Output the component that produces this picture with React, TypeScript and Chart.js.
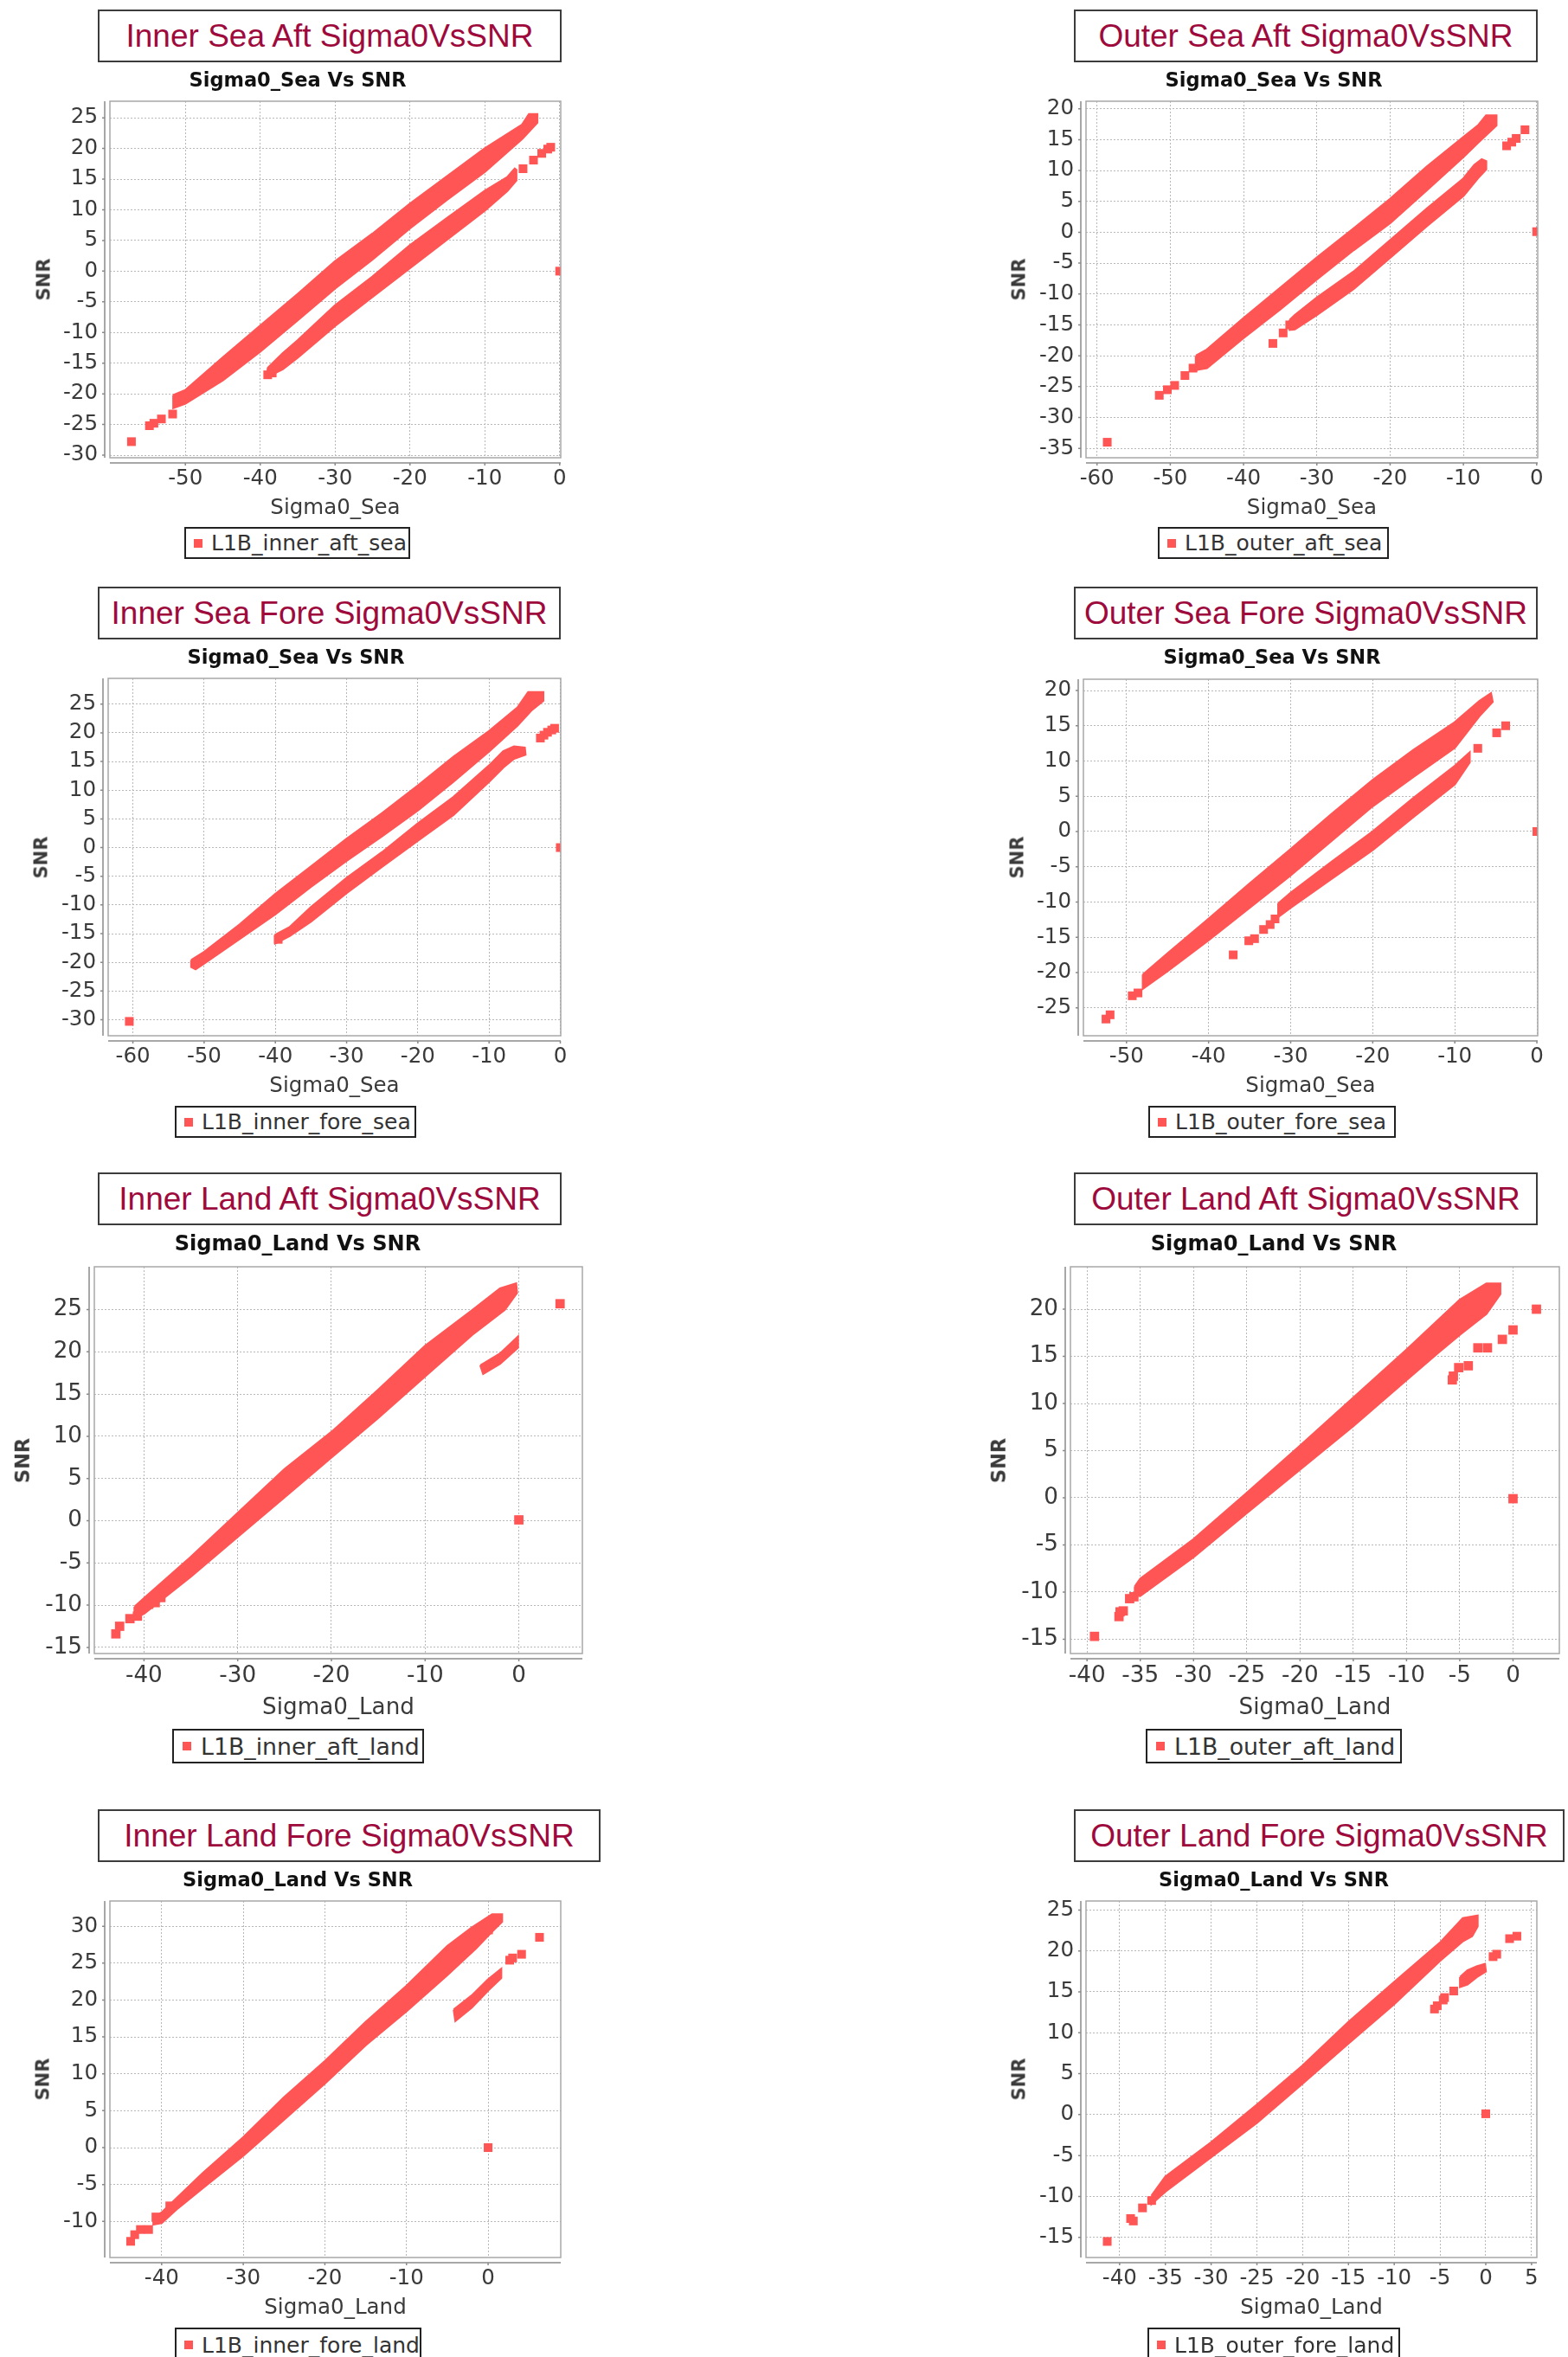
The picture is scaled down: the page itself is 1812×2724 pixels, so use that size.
import React, { useEffect, useRef } from 'react';
import { Chart, registerables } from 'chart.js';

Chart.register(...registerables);

type P = [number, number];

const RED = '#ff5555';
const FONT = "'DejaVu Sans', sans-serif";
const TITLE_FONT = "'Liberation Sans', Arial, sans-serif";

// ---------------- Inner Sea Aft ----------------
const innerSeaAftXTicks = [-50, -40, -30, -20, -10, 0];
const innerSeaAftYTicks = [-30, -25, -20, -15, -10, -5, 0, 5, 10, 15, 20, 25];
const innerSeaAftBandA: P[] = [
  [-51.6, -20.2], [-50, -19.4], [-45, -14.1], [-40, -8.9], [-35, -3.75], [-30, 1.6], [-25, 6.1], [-20, 11.0],
  [-15, 15.5], [-10, 20.0], [-5, 23.9], [-4.1, 25.6], [-3.0, 25.6],
  [-3.0, 24.2], [-5, 21.6], [-10, 16.2], [-15, 11.7], [-20, 7.0], [-25, 1.9], [-30, -2.8], [-35, -8.0],
  [-40, -13.1], [-45, -17.8], [-50, -21.6], [-51.6, -22.3],
];
const innerSeaAftBandB: P[] = [
  [-39.0, -15.8], [-37, -13.4], [-35, -11.3], [-30, -5.6], [-25, -0.9], [-20, 4.2], [-15, 8.7], [-10, 13.1],
  [-7, 15.3], [-6.0, 16.7], [-5.8, 16.5],
  [-5.8, 14.8], [-7, 13.1], [-10, 9.9], [-15, 5.2], [-20, 0.5], [-25, -4.2], [-30, -8.9], [-35, -14.1],
  [-37, -16.0], [-39, -17.2],
];
const innerSeaAftPoints: P[] = [
  [-57.2, -27.8], [-54.8, -25.2], [-54.2, -24.8], [-53.2, -24.1], [-51.7, -23.3], [-39.0, -16.9], [-38.4, -16.6],
  [-4.9, 16.7], [-3.5, 18.1], [-2.4, 19.2], [-1.6, 19.9], [-1.2, 20.2], [0, 0],
];

// ---------------- Outer Sea Aft ----------------
const outerSeaAftXTicks = [-60, -50, -40, -30, -20, -10, 0];
const outerSeaAftYTicks = [-35, -30, -25, -20, -15, -10, -5, 0, 5, 10, 15, 20];
const outerSeaAftBandA: P[] = [
  [-46.5, -20.0], [-45, -19.0], [-40, -13.9], [-35, -9.0], [-30, -4.1], [-25, 0.6], [-20, 5.4], [-15, 10.6],
  [-10, 15.4], [-8, 17.3], [-6.9, 18.9], [-5.5, 18.9],
  [-5.5, 17.3], [-8, 14.5], [-10, 12.2], [-15, 6.8], [-20, 1.5], [-25, -2.9], [-30, -7.6], [-35, -12.5],
  [-40, -17.1], [-45, -22.0], [-46.5, -22.3],
];
const outerSeaAftBandB: P[] = [
  [-33.7, -14.2], [-33, -13.4], [-30, -10.6], [-25, -6.4], [-20, -1.3], [-15, 3.8], [-10, 8.7], [-8.5, 10.9],
  [-7.5, 11.8], [-6.9, 11.5],
  [-6.9, 10.2], [-8, 8.8], [-10, 5.9], [-15, 1.0], [-20, -4.1], [-25, -9.2], [-30, -13.4], [-33, -15.7],
  [-33.7, -15.8],
];
const outerSeaAftPoints: P[] = [
  [-58.6, -34.0], [-51.5, -26.4], [-50.4, -25.5], [-49.4, -24.8], [-48.0, -23.2], [-46.9, -22.0], [-36.0, -18.0],
  [-34.6, -16.3], [-33.7, -15.0], [-4.1, 14.0], [-3.4, 14.6], [-2.8, 15.2], [-1.6, 16.6], [0, 0.1],
];

// ---------------- Inner Sea Fore ----------------
const innerSeaForeXTicks = [-60, -50, -40, -30, -20, -10, 0];
const innerSeaForeYTicks = [-30, -25, -20, -15, -10, -5, 0, 5, 10, 15, 20, 25];
const innerSeaForeBandA: P[] = [
  [-51.8, -19.6], [-50, -18.2], [-45, -13.4], [-40, -8.1], [-35, -3.3], [-30, 1.5], [-25, 6.0], [-20, 10.8],
  [-15, 15.8], [-10, 20.3], [-6, 24.4], [-4.5, 27.1], [-2.4, 27.1],
  [-2.4, 25.6], [-4, 24.0], [-6, 21.3], [-10, 16.8], [-15, 11.5], [-20, 6.5], [-25, 2.0], [-30, -2.3],
  [-35, -6.8], [-40, -11.6], [-45, -15.9], [-50, -20.2], [-51.2, -21.2], [-51.8, -20.8],
];
const innerSeaForeBandB: P[] = [
  [-40, -15.2], [-38, -13.9], [-35, -10.4], [-30, -5.3], [-25, -0.8], [-20, 4.2], [-15, 8.8], [-10, 14.3],
  [-8, 16.8], [-6.5, 17.6], [-5, 17.4],
  [-4.9, 16.2], [-6.5, 15.5], [-8, 14.0], [-10, 11.5], [-15, 5.7], [-20, 1.2], [-25, -3.3], [-30, -7.9],
  [-35, -12.9], [-38, -15.4], [-40, -16.7],
];
const innerSeaForePoints: P[] = [
  [-60.5, -30.3], [-39.6, -16.0], [-2.8, 19.1], [-2.3, 19.6], [-1.8, 20.1], [-1.2, 20.5], [-0.8, 20.8], [0, 0],
];

// ---------------- Outer Sea Fore ----------------
const outerSeaForeXTicks = [-50, -40, -30, -20, -10, 0];
const outerSeaForeYTicks = [-25, -20, -15, -10, -5, 0, 5, 10, 15, 20];
const outerSeaForeBandA: P[] = [
  [-48, -20.3], [-45, -17.3], [-40, -12.4], [-35, -7.4], [-30, -2.5], [-25, 2.5], [-20, 7.3], [-15, 11.6],
  [-10, 15.5], [-7, 18.5], [-5.6, 19.6],
  [-5.4, 18.4], [-7, 16.4], [-10, 11.9], [-15, 7.8], [-20, 3.6], [-25, -1.3], [-30, -6.2], [-35, -10.8],
  [-40, -15.4], [-45, -19.8], [-48, -22.3],
];
const outerSeaForeBandB: P[] = [
  [-31.5, -10.2], [-30, -8.7], [-25, -4.3], [-20, 0.0], [-15, 4.8], [-10, 9.3], [-8.2, 11.2],
  [-8.2, 9.8], [-10, 6.7], [-15, 2.1], [-20, -2.6], [-25, -6.7], [-30, -10.8], [-31.5, -12.1],
];
const outerSeaForePoints: P[] = [
  [-52.5, -26.6], [-52.0, -26.0], [-49.3, -23.3], [-48.6, -22.9], [-37.0, -17.5], [-35.1, -15.5], [-34.4, -15.2],
  [-33.3, -13.9], [-32.5, -13.2], [-31.9, -12.4], [-7.2, 11.8], [-4.9, 14.0], [-3.8, 15.0], [0, 0],
];

// ---------------- Inner Land Aft ----------------
const innerLandAftXTicks = [-40, -30, -20, -10, 0];
const innerLandAftYTicks = [-15, -10, -5, 0, 5, 10, 15, 20, 25];
const innerLandAftBandA: P[] = [
  [-41, -10.2], [-40, -9.2], [-35, -4.3], [-30, 0.9], [-25, 6.1], [-20, 10.5], [-15, 15.5], [-10, 20.7],
  [-5, 24.9], [-2, 27.5], [-0.3, 28.1],
  [-0.2, 27.0], [-1.5, 25.0], [-5, 22.0], [-10, 17.1], [-15, 12.2], [-20, 7.5], [-25, 2.8], [-30, -1.9],
  [-35, -6.6], [-40, -11.0], [-41, -11.5],
];
const innerLandAftBandB: P[] = [
  [-4.1, 18.4], [-2, 19.8], [-0.1, 21.8], [-0.1, 20.5], [-2, 18.6], [-3.8, 17.4],
];
const innerLandAftPoints: P[] = [
  [-43.0, -13.4], [-42.6, -12.5], [-41.5, -11.6], [-40.7, -11.3], [-39.5, -9.9], [-38.8, -9.7], [-38.2, -9.1],
  [4.4, 25.7], [0, 0.1],
];

// ---------------- Outer Land Aft ----------------
const outerLandAftXTicks = [-40, -35, -30, -25, -20, -15, -10, -5, 0];
const outerLandAftYTicks = [-15, -10, -5, 0, 5, 10, 15, 20];
const outerLandAftBandA: P[] = [
  [-35.5, -9.4], [-35, -8.6], [-30, -4.4], [-25, 0.5], [-20, 5.5], [-15, 10.6], [-10, 15.7], [-5, 21.0],
  [-2.5, 22.7], [-1.2, 22.7],
  [-1.2, 21.6], [-2.5, 19.5], [-5, 17.3], [-7, 15.4], [-10, 12.5], [-15, 7.6], [-20, 3.0], [-25, -1.6],
  [-30, -6.3], [-35, -10.4], [-35.5, -10.4],
];
const outerLandAftPoints: P[] = [
  [-39.3, -14.7], [-37.0, -12.6], [-36.9, -12.1], [-36.6, -12.0], [-36.0, -10.7], [-35.6, -10.5], [2.2, 20.0],
  [0, 17.8], [-1.0, 16.8], [-2.4, 15.9], [-3.3, 15.9], [-4.2, 14.0], [-5.1, 13.8], [-5.6, 12.9], [-5.7, 12.5],
  [0, -0.1],
];

// ---------------- Inner Land Fore ----------------
const innerLandForeXTicks = [-40, -30, -20, -10, 0];
const innerLandForeYTicks = [-10, -5, 0, 5, 10, 15, 20, 25, 30];
const innerLandForeBandA: P[] = [
  [-41, -9.6], [-40, -8.8], [-35, -3.5], [-30, 1.4], [-25, 6.8], [-20, 11.7], [-15, 17.0], [-10, 21.9],
  [-5, 27.3], [-2, 29.8], [0.5, 31.6], [1.7, 31.6],
  [1.7, 30.6], [0.5, 29.3], [-1.5, 27.0], [-5, 23.4], [-10, 18.5], [-15, 13.9], [-20, 8.7], [-25, 3.8],
  [-30, -1.1], [-35, -5.5], [-38, -8.2], [-40, -10.2], [-41, -10.4],
];
const innerLandForeBandB: P[] = [
  [-4.2, 18.7], [-2, 20.6], [0, 22.8], [1.6, 24.2], [1.6, 23.0], [0, 21.3], [-2, 19.0], [-4, 17.2],
];
const innerLandForePoints: P[] = [
  [-43.8, -12.7], [-43.3, -11.8], [-42.6, -11.1], [-41.6, -11.1], [-40.7, -9.4], [-39.0, -7.9], [0.05, 29.5],
  [2.65, 25.4], [3.0, 25.7], [4.1, 26.2], [6.3, 28.5], [0, 0],
];

// ---------------- Outer Land Fore ----------------
const outerLandForeXTicks = [-40, -35, -30, -25, -20, -15, -10, -5, 0, 5];
const outerLandForeYTicks = [-15, -10, -5, 0, 5, 10, 15, 20, 25];
const outerLandForeBandA: P[] = [
  [-36.5, -9.9], [-35, -7.6], [-30, -3.4], [-25, 1.2], [-20, 6.0], [-15, 11.3], [-10, 16.2], [-5, 21.0],
  [-2.5, 24.0], [-0.9, 24.3],
  [-0.9, 23.0], [-1.5, 21.8], [-2.5, 21.2], [-5, 18.8], [-10, 13.5], [-15, 8.7], [-20, 3.8], [-25, -1.0],
  [-30, -5.2], [-35, -9.4], [-36.5, -10.9],
];
const outerLandForeBandB: P[] = [
  [-2.8, 16.8], [-2, 17.6], [-1, 18.1], [-0.1, 18.4], [0, 17.5], [-1, 16.8], [-2, 15.9], [-2.8, 15.6],
];
const outerLandForePoints: P[] = [
  [-41.35, -15.5], [-38.8, -12.7], [-38.5, -13.0], [-37.5, -11.4], [-36.5, -10.5], [-5.6, 12.9], [-5.3, 13.3],
  [-4.65, 14.0], [-4.5, 14.3], [-3.5, 15.1], [0.8, 19.3], [1.2, 19.6], [2.6, 21.5], [3.4, 21.8], [0, 0.1],
];

// ---------------- layout ----------------
interface Box { l: number; t: number; r: number; b: number }
interface PanelSpec {
  title: string; subtitle: string; xLabel: string; legend: string;
  bands: P[][]; points: P[]; xTicks: number[]; yTicks: number[];
  x: [number, number]; y: [number, number];
  plot: Box; titleBox: Box; sub: [number, number]; xLabelY: number; snrX: number; legendBox: Box; k: number;
}

const panels: PanelSpec[] = [
  {
    title: 'Inner Sea Aft Sigma0VsSNR', subtitle: 'Sigma0_Sea Vs SNR', xLabel: 'Sigma0_Sea', legend: 'L1B_inner_aft_sea',
    bands: [innerSeaAftBandA, innerSeaAftBandB], points: innerSeaAftPoints, xTicks: innerSeaAftXTicks, yTicks: innerSeaAftYTicks,
    x: [-60.08, 0.14], y: [-30.42, 27.7],
    plot: { l: 127, t: 117, r: 648, b: 529 }, titleBox: { l: 113, t: 11, r: 649, b: 72 }, sub: [344, 92],
    xLabelY: 585.5, snrX: 51, legendBox: { l: 213, t: 609, r: 474, b: 646 }, k: 1,
  },
  {
    title: 'Outer Sea Aft Sigma0VsSNR', subtitle: 'Sigma0_Sea Vs SNR', xLabel: 'Sigma0_Sea', legend: 'L1B_outer_aft_sea',
    bands: [outerSeaAftBandA, outerSeaAftBandB], points: outerSeaAftPoints, xTicks: outerSeaAftXTicks, yTicks: outerSeaAftYTicks,
    x: [-61.5, 0.14], y: [-36.51, 21.22],
    plot: { l: 1255, t: 117, r: 1777, b: 529 }, titleBox: { l: 1241, t: 11, r: 1777, b: 72 }, sub: [1472, 92],
    xLabelY: 585.5, snrX: 1178, legendBox: { l: 1338, t: 609, r: 1605, b: 646 }, k: 1,
  },
  {
    title: 'Inner Sea Fore Sigma0VsSNR', subtitle: 'Sigma0_Sea Vs SNR', xLabel: 'Sigma0_Sea', legend: 'L1B_inner_fore_sea',
    bands: [innerSeaForeBandA, innerSeaForeBandB], points: innerSeaForePoints, xTicks: innerSeaForeXTicks, yTicks: innerSeaForeYTicks,
    x: [-63.47, 0.06], y: [-32.8, 29.5],
    plot: { l: 125, t: 784, r: 648, b: 1197 }, titleBox: { l: 113, t: 678, r: 648, b: 739 }, sub: [342, 759],
    xLabelY: 1254, snrX: 48, legendBox: { l: 202, t: 1278, r: 481, b: 1315 }, k: 1,
  },
  {
    title: 'Outer Sea Fore Sigma0VsSNR', subtitle: 'Sigma0_Sea Vs SNR', xLabel: 'Sigma0_Sea', legend: 'L1B_outer_fore_sea',
    bands: [outerSeaForeBandA, outerSeaForeBandB], points: outerSeaForePoints, xTicks: outerSeaForeXTicks, yTicks: outerSeaForeYTicks,
    x: [-55.25, 0.1], y: [-28.97, 21.6],
    plot: { l: 1252, t: 785, r: 1777, b: 1197 }, titleBox: { l: 1241, t: 678, r: 1777, b: 739 }, sub: [1470, 759],
    xLabelY: 1254, snrX: 1176, legendBox: { l: 1327, t: 1278, r: 1613, b: 1315 }, k: 1,
  },
  {
    title: 'Inner Land Aft Sigma0VsSNR', subtitle: 'Sigma0_Land Vs SNR', xLabel: 'Sigma0_Land', legend: 'L1B_inner_aft_land',
    bands: [innerLandAftBandA, innerLandAftBandB], points: innerLandAftPoints, xTicks: innerLandAftXTicks, yTicks: innerLandAftYTicks,
    x: [-45.3, 6.78], y: [-15.73, 30.08],
    plot: { l: 109, t: 1464, r: 673, b: 1911 }, titleBox: { l: 113, t: 1355, r: 649, b: 1416 }, sub: [344, 1437],
    xLabelY: 1972, snrX: 26, legendBox: { l: 199, t: 1998, r: 490, b: 2038 }, k: 1.07,
  },
  {
    title: 'Outer Land Aft Sigma0VsSNR', subtitle: 'Sigma0_Land Vs SNR', xLabel: 'Sigma0_Land', legend: 'L1B_outer_aft_land',
    bands: [outerLandAftBandA], points: outerLandAftPoints, xTicks: outerLandAftXTicks, yTicks: outerLandAftYTicks,
    x: [-41.56, 4.35], y: [-16.52, 24.5],
    plot: { l: 1237, t: 1464, r: 1802, b: 1911 }, titleBox: { l: 1241, t: 1355, r: 1777, b: 1416 }, sub: [1472, 1437],
    xLabelY: 1972, snrX: 1154, legendBox: { l: 1324, t: 1998, r: 1620, b: 2038 }, k: 1.07,
  },
  {
    title: 'Inner Land Fore Sigma0VsSNR', subtitle: 'Sigma0_Land Vs SNR', xLabel: 'Sigma0_Land', legend: 'L1B_inner_fore_land',
    bands: [innerLandForeBandA, innerLandForeBandB], points: innerLandForePoints, xTicks: innerLandForeXTicks, yTicks: innerLandForeYTicks,
    x: [-46.34, 8.9], y: [-14.89, 33.42],
    plot: { l: 127, t: 2197, r: 648, b: 2609 }, titleBox: { l: 113, t: 2091, r: 694, b: 2152 }, sub: [344, 2172],
    xLabelY: 2666, snrX: 50, legendBox: { l: 202, t: 2690, r: 487, b: 2730 }, k: 1,
  },
  {
    title: 'Outer Land Fore Sigma0VsSNR', subtitle: 'Sigma0_Land Vs SNR', xLabel: 'Sigma0_Land', legend: 'L1B_outer_fore_land',
    bands: [outerLandForeBandA, outerLandForeBandB], points: outerLandForePoints, xTicks: outerLandForeXTicks, yTicks: outerLandForeYTicks,
    x: [-43.67, 5.58], y: [-17.46, 26.1],
    plot: { l: 1255, t: 2197, r: 1776, b: 2609 }, titleBox: { l: 1241, t: 2091, r: 1808, b: 2152 }, sub: [1472, 2172],
    xLabelY: 2666, snrX: 1178, legendBox: { l: 1326, t: 2690, r: 1618, b: 2730 }, k: 1,
  },
];

const YW = 110;
const XH = 70;
const PT = 24;
const PR = 26;

const framePlugin = {
  id: 'jfreeFrame',
  afterDatasetsDraw(chart: any) {
    const { ctx, chartArea: a, scales } = chart;
    ctx.save();
    ctx.strokeStyle = '#a8a8a8';
    ctx.lineWidth = 1.5;
    ctx.strokeRect(a.left, a.top, a.right - a.left, a.bottom - a.top);
    const ax = a.left - 6;
    const ay = a.bottom + 6;
    ctx.strokeStyle = '#8a8a8a';
    ctx.lineWidth = 1.5;
    ctx.beginPath();
    ctx.moveTo(ax, a.top);
    ctx.lineTo(ax, a.bottom);
    ctx.moveTo(a.left, ay);
    ctx.lineTo(a.right, ay);
    scales.y.ticks.forEach((t: any) => {
      const py = scales.y.getPixelForValue(t.value);
      ctx.moveTo(ax - 3, py);
      ctx.lineTo(ax, py);
    });
    scales.x.ticks.forEach((t: any) => {
      const px = scales.x.getPixelForValue(t.value);
      ctx.moveTo(px, ay);
      ctx.lineTo(px, ay + 3);
    });
    ctx.stroke();
    ctx.restore();
  },
};

function Panel({ s }: { s: PanelSpec }) {
  const ref = useRef<HTMLCanvasElement>(null);
  const pw = s.plot.r - s.plot.l;
  const ph = s.plot.b - s.plot.t;
  const w = pw + YW + PR;
  const h = ph + PT + XH;

  useEffect(() => {
    const fit = (size: 'width' | 'height', v: number) => (sc: any) => {
      sc[size] = v;
      sc.paddingLeft = 0;
      sc.paddingRight = 0;
      sc.paddingTop = 0;
      sc.paddingBottom = 0;
    };
    const tickFont = { family: FONT, size: 24.5 * s.k };
    const chart = new Chart(ref.current as HTMLCanvasElement, {
      type: 'scatter',
      data: {
        datasets: [
          ...s.bands.map((b) => ({
            data: [...b, b[0]].map(([x, y]) => ({ x, y })),
            showLine: true,
            fill: 'shape',
            backgroundColor: RED,
            borderColor: RED,
            borderWidth: 2.5,
            pointRadius: 0,
            pointHoverRadius: 0,
            pointHitRadius: 0,
            tension: 0,
            clip: 0,
          })),
          {
            data: s.points.map(([x, y]) => ({ x, y })),
            pointStyle: 'rect',
            pointRadius: 7.1 * s.k,
            pointHoverRadius: 7.1 * s.k,
            backgroundColor: RED,
            borderColor: RED,
            borderWidth: 0,
            clip: 0,
          },
        ] as any,
      },
      options: {
        animation: false,
        responsive: false,
        events: [],
        layout: { padding: { left: 0, top: PT, right: PR, bottom: 0 } },
        plugins: { legend: { display: false }, tooltip: { enabled: false }, title: { display: false } },
        scales: {
          x: {
            type: 'linear',
            bounds: 'data',
            min: s.x[0],
            max: s.x[1],
            afterBuildTicks: (sc: any) => { sc.ticks = s.xTicks.map((v) => ({ value: v })); },
            afterFit: fit('height', XH),
            grid: { color: '#b8b8b8', lineWidth: 1, drawTicks: false },
            border: { display: false, dash: [2, 2] },
            ticks: {
              autoSkip: false, maxRotation: 0, minRotation: 0, padding: 10, color: '#3a3a3a',
              font: tickFont, callback: (v: any) => String(v),
            },
          },
          y: {
            type: 'linear',
            bounds: 'data',
            min: s.y[0],
            max: s.y[1],
            afterBuildTicks: (sc: any) => { sc.ticks = s.yTicks.map((v) => ({ value: v })); },
            afterFit: fit('width', YW),
            grid: { color: '#b8b8b8', lineWidth: 1, drawTicks: false },
            border: { display: false, dash: [2, 2] },
            ticks: {
              autoSkip: false, padding: 14, color: '#3a3a3a',
              font: tickFont, callback: (v: any) => String(v),
            },
          },
        },
      } as any,
      plugins: [framePlugin],
    });
    return () => chart.destroy();
  }, []);

  const tb = s.titleBox;
  const lb = s.legendBox;
  return (
    <>
      <canvas
        ref={ref}
        width={w}
        height={h}
        style={{ position: 'absolute', left: s.plot.l - YW, top: s.plot.t - PT, width: w, height: h }}
      />
      <div
        style={{
          position: 'absolute', left: tb.l, top: tb.t, width: tb.r - tb.l, height: tb.b - tb.t,
          boxSizing: 'border-box', border: '2px solid #3c3c3c', display: 'flex', alignItems: 'center',
          justifyContent: 'center', fontFamily: TITLE_FONT, fontSize: 37, color: '#9e0a3c', whiteSpace: 'nowrap',
        }}
      >
        {s.title}
      </div>
      <div
        style={{
          position: 'absolute', left: s.sub[0] - 300, top: s.sub[1] - 20, width: 600, height: 40, lineHeight: '40px',
          textAlign: 'center', fontFamily: FONT, fontWeight: 'bold', fontSize: 22.5 * s.k, color: '#111',
        }}
      >
        {s.subtitle}
      </div>
      <div
        style={{
          position: 'absolute', left: s.plot.l, top: s.xLabelY - 20, width: pw, height: 40, lineHeight: '40px',
          textAlign: 'center', fontFamily: FONT, fontSize: 24.5 * s.k, color: '#3a3a3a',
        }}
      >
        {s.xLabel}
      </div>
      <div
        style={{
          position: 'absolute', left: s.snrX, top: (s.plot.t + s.plot.b) / 2, transform: 'translate(-50%, -50%) rotate(-90deg)',
          fontFamily: FONT, fontWeight: 'bold', fontSize: 21 * s.k, color: '#3a3a3a', lineHeight: 1, whiteSpace: 'nowrap',
        }}
      >
        SNR
      </div>
      <div
        style={{
          position: 'absolute', left: lb.l, top: lb.t, width: lb.r - lb.l, height: lb.b - lb.t, boxSizing: 'border-box',
          border: '2px solid #222', display: 'flex', alignItems: 'center', paddingLeft: 9 * s.k,
          fontFamily: FONT, fontSize: 25 * s.k, color: '#333', whiteSpace: 'nowrap',
        }}
      >
        <span style={{ display: 'inline-block', width: 10 * s.k, height: 10 * s.k, background: RED, marginRight: 10 * s.k }} />
        {s.legend}
      </div>
    </>
  );
}

export default function App() {
  useEffect(() => {
    document.body.style.margin = '0';
  }, []);
  return (
    <div style={{ position: 'relative', width: 1812, height: 2724, overflow: 'hidden', background: '#fff' }}>
      {panels.map((s, i) => (
        <Panel key={i} s={s} />
      ))}
    </div>
  );
}
